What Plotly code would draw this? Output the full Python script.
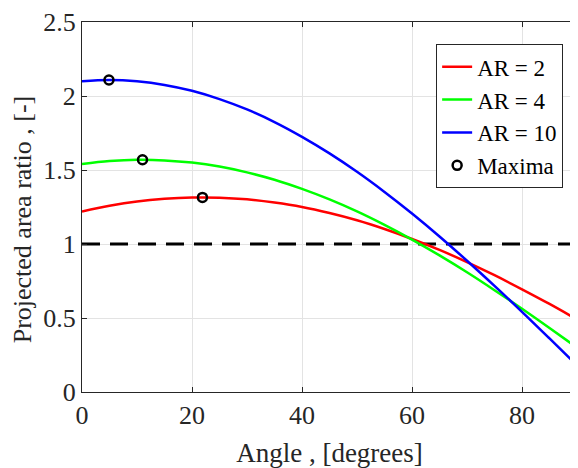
import plotly.graph_objects as go

angle = [0, 5, 10, 15, 20, 25, 30, 35, 40, 45, 50, 55, 60, 65, 70, 75, 80, 85, 90]
ar2 = [1.220, 1.258, 1.287, 1.305, 1.314, 1.313, 1.302, 1.280, 1.250, 1.209, 1.160,
       1.101, 1.034, 0.960, 0.878, 0.789, 0.694, 0.595, 0.490]
ar4 = [1.540, 1.560, 1.569, 1.565, 1.550, 1.523, 1.484, 1.434, 1.372, 1.301, 1.220,
       1.129, 1.030, 0.923, 0.809, 0.688, 0.563, 0.433, 0.300]
ar10 = [2.100, 2.108, 2.099, 2.075, 2.035, 1.979, 1.909, 1.824, 1.724, 1.612, 1.488,
        1.352, 1.206, 1.051, 0.887, 0.717, 0.542, 0.362, 0.180]
max_x = [21.9, 11.0, 4.9]
max_y = [1.315, 1.569, 2.108]
ref_x = [0, 90]
ref_y = [1, 1]

font = "Liberation Serif"
fig = go.Figure()
fig.add_trace(go.Scatter(x=ref_x, y=ref_y, mode="lines", showlegend=False,
                         line=dict(color="black", width=3, dash="18px,10px")))
fig.add_trace(go.Scatter(x=angle, y=ar2, mode="lines", name="AR = 2",
                         line=dict(color="#ff0000", width=2.5, shape="spline")))
fig.add_trace(go.Scatter(x=angle, y=ar4, mode="lines", name="AR = 4",
                         line=dict(color="#00ff00", width=2.5, shape="spline")))
fig.add_trace(go.Scatter(x=angle, y=ar10, mode="lines", name="AR = 10",
                         line=dict(color="#0000ff", width=2.5, shape="spline")))
fig.add_trace(go.Scatter(x=max_x, y=max_y, mode="markers", name="Maxima",
                         marker=dict(symbol="circle-open", size=9, color="black",
                                     line=dict(width=2.5, color="black"))))

axis_common = dict(showline=True, linecolor="#262626", linewidth=1, mirror="ticks",
                   ticks="inside", ticklen=5, tickcolor="#262626",
                   showgrid=True, gridcolor="#e3e3e3", gridwidth=1, zeroline=False,
                   ticklabeloverflow="allow",
                   tickfont=dict(family=font, size=26, color="#262626"))
fig.update_layout(
    width=570, height=460,
    margin=dict(l=74, r=0, t=9, b=76),
    paper_bgcolor="white", plot_bgcolor="white",
    xaxis=dict(range=[0, 90], tickvals=[0, 20, 40, 60, 80],
               title=dict(text="Angle , [degrees]", font=dict(family=font, size=27, color="#262626"),
                          standoff=13),
               **axis_common),
    yaxis=dict(range=[0, 2.5], tickvals=[0, 0.5, 1, 1.5, 2, 2.5],
               ticktext=["0", "0.5", "1", "1.5", "2", "2.5"],
               **axis_common),
    legend=dict(x=0.972, y=0.94, xanchor="right", yanchor="top",
                bgcolor="white", bordercolor="#262626", borderwidth=1,
                font=dict(family=font, size=23, color="#000000"),
                itemwidth=30, tracegroupgap=0),
    annotations=[dict(text="Projected area ratio , [-]", textangle=-90,
                      xref="paper", yref="paper", x=-0.121, y=0.467,
                      xanchor="center", yanchor="middle", showarrow=False,
                      font=dict(family=font, size=26, color="#262626"))],
)
fig.write_html("out.html")
